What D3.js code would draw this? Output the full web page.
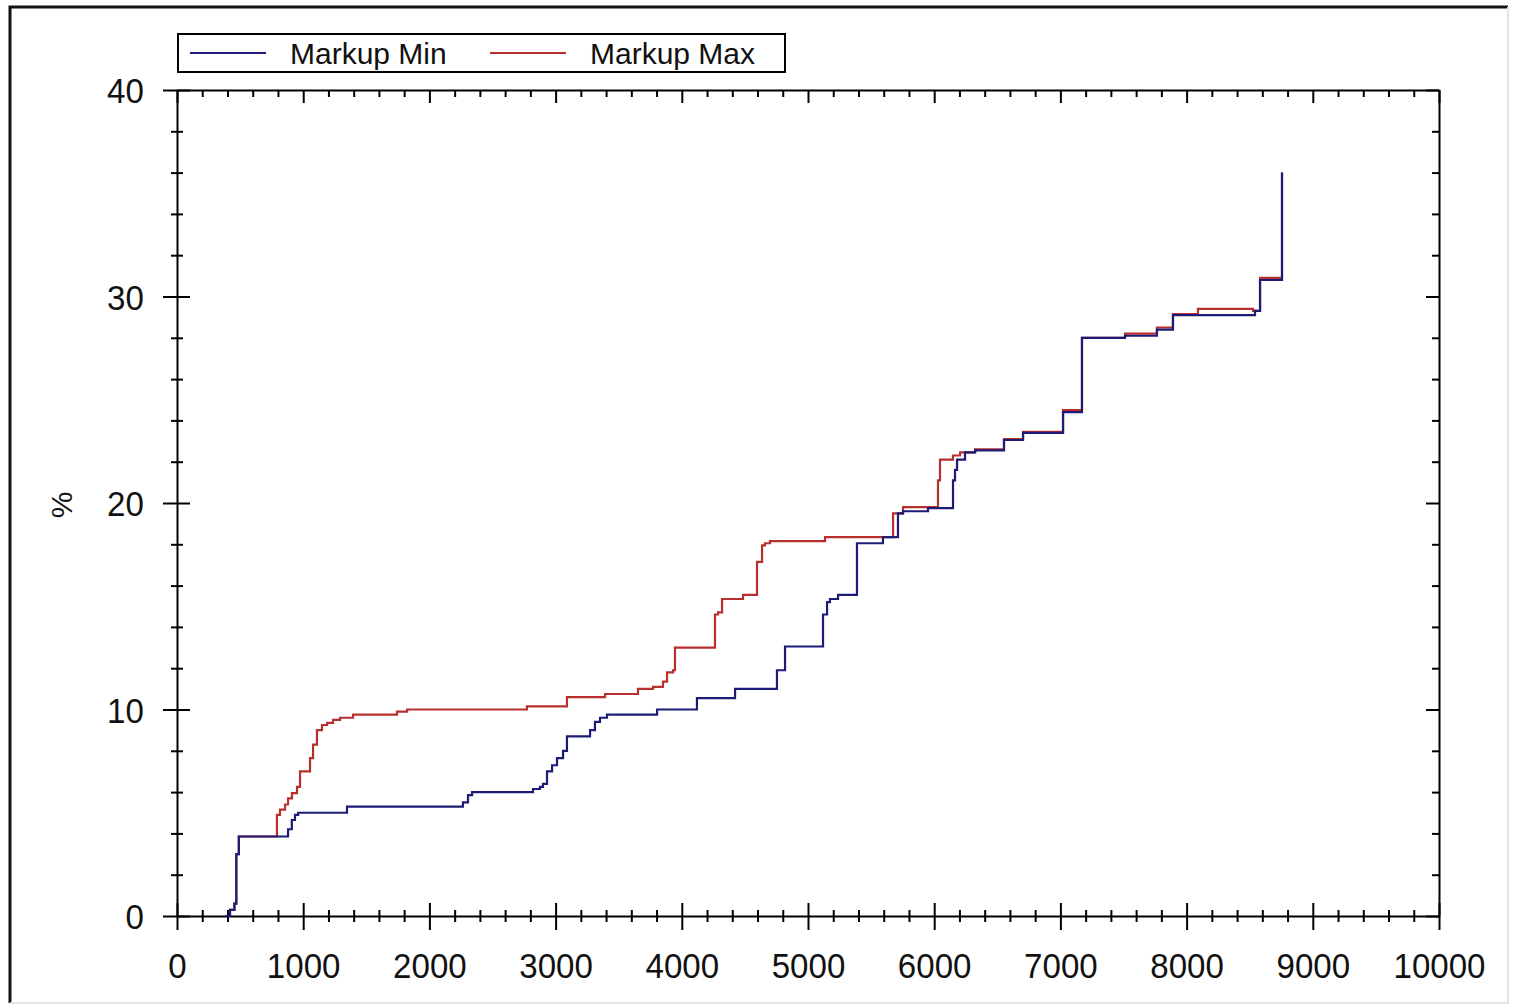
<!DOCTYPE html>
<html>
<head>
<meta charset="utf-8">
<script src="https://cdn.jsdelivr.net/npm/d3@7"></script>
<style>
  html, body { margin: 0; padding: 0; background: #fff; }
  svg { display: block; }
  text { font-family: "Liberation Sans", Arial, sans-serif; fill: #111; }
</style>
</head>
<body>
<div id="chart"></div>
<script>
// Step series: [x, %] means the value jumps to % at x
const markupMin = [
  [380, 0], [420, 0.3], [455, 0.6], [470, 3.0], [490, 3.85],
  [880, 4.2], [910, 4.65], [935, 4.9], [960, 5.0], [1347, 5.3],
  [2266, 5.5], [2306, 5.85], [2338, 6.0], [2821, 6.15], [2876, 6.25],
  [2900, 6.4], [2932, 7.0], [2972, 7.3], [3011, 7.65], [3059, 8.0],
  [3090, 8.7], [3273, 9.0], [3312, 9.4], [3352, 9.6], [3407, 9.75],
  [3804, 10.0], [4120, 10.55], [4422, 11.0], [4754, 11.9], [4818, 13.05],
  [5119, 14.6], [5151, 15.2], [5174, 15.35], [5238, 15.55], [5388, 18.05],
  [5594, 18.35], [5713, 19.5], [5753, 19.6], [5951, 19.75], [6149, 21.1],
  [6165, 21.6], [6181, 22.1], [6244, 22.45], [6324, 22.55], [6553, 23.05],
  [6704, 23.4], [7021, 24.4], [7171, 28.0], [7512, 28.1], [7765, 28.4],
  [7892, 29.1], [8542, 29.3], [8582, 30.8], [8756, 36.0]
];

const markupMax = [
  [380, 0], [420, 0.3], [455, 0.6], [470, 3.0], [490, 3.85],
  [792, 4.9], [816, 5.15], [856, 5.4], [880, 5.7], [911, 5.95],
  [951, 6.25], [975, 7.0], [1054, 7.65], [1078, 8.3], [1109, 9.0],
  [1149, 9.25], [1189, 9.35], [1236, 9.5], [1292, 9.6], [1395, 9.75],
  [1743, 9.9], [1823, 10.0], [2773, 10.15], [3090, 10.6], [3392, 10.75],
  [3653, 11.0], [3772, 11.1], [3851, 11.35], [3883, 11.8], [3931, 11.9],
  [3946, 13.0], [4263, 14.6], [4287, 14.7], [4319, 15.35], [4485, 15.55],
  [4596, 17.15], [4636, 17.95], [4659, 18.05], [4699, 18.15], [5135, 18.35],
  [5674, 19.5], [5753, 19.8], [6030, 21.1], [6046, 22.1], [6149, 22.3],
  [6205, 22.45], [6324, 22.6], [6553, 23.1], [6704, 23.45], [7021, 24.5],
  [7171, 28.0], [7512, 28.2], [7765, 28.5], [7892, 29.15], [8090, 29.4],
  [8526, 29.3], [8582, 30.9], [8756, 36.0]
];

const seriesNames = ["Markup Min", "Markup Max"];
const xTicks = [0, 1000, 2000, 3000, 4000, 5000, 6000, 7000, 8000, 9000, 10000];
const yTicks = [0, 10, 20, 30, 40];
const yLabel = "%";

const W = 1518, H = 1007;
const plot = { left: 177, right: 1439, top: 90, bottom: 916 };
const colors = { min: "#1c1c78", max: "#b8302e" };

const svg = d3.select("#chart").append("svg")
  .attr("width", W)
  .attr("height", H);

// outer frame, dark top/left edge and light bottom/right edge
svg.append("rect").attr("x", 0).attr("y", 0).attr("width", W).attr("height", H).attr("fill", "#fff");
svg.append("path")
  .attr("d", `M10,1003 L10,7 L1508,7`)
  .attr("fill", "none").attr("stroke", "#111").attr("stroke-width", 3);
svg.append("path")
  .attr("d", `M1508,7 L1508,1003 L10,1003`)
  .attr("fill", "none").attr("stroke", "#e4e4e4").attr("stroke-width", 2);

const x = d3.scaleLinear().domain([0, 10000]).range([plot.left, plot.right]);
const y = d3.scaleLinear().domain([0, 40]).range([plot.bottom, plot.top]);

const minorX = d3.range(0, 10001, 200).filter(v => v % 1000 !== 0);
const minorY = d3.range(0, 41, 2).filter(v => v % 10 !== 0);

function styleAxis(g) {
  g.attr("font-size", null).attr("font-family", null);
  g.selectAll("path.domain").attr("stroke", "#000").attr("stroke-width", 2);
  g.selectAll(".tick line").attr("stroke", "#000").attr("stroke-width", 2);
}

// bottom axis: ticks cross the axis line
const bottom = svg.append("g")
  .attr("transform", `translate(0,${plot.bottom})`)
  .call(d3.axisBottom(x).tickValues(xTicks).tickSizeOuter(0).tickFormat(d3.format("d")))
  .call(styleAxis);
bottom.selectAll(".tick line").attr("y1", -13).attr("y2", 14);
bottom.selectAll(".tick text")
  .attr("y", 62).attr("dy", 0)
  .attr("font-size", 36)
  .attr("transform", "scale(0.92,1)");
svg.append("g")
  .attr("transform", `translate(0,${plot.bottom})`)
  .call(d3.axisBottom(x).tickValues(minorX).tickSizeOuter(0).tickFormat(""))
  .call(styleAxis)
  .call(g => g.select("path.domain").remove())
  .selectAll(".tick line").attr("y1", -6).attr("y2", 6);

// left axis
const left = svg.append("g")
  .attr("transform", `translate(${plot.left},0)`)
  .call(d3.axisLeft(y).tickValues(yTicks).tickSizeOuter(0).tickFormat(d3.format("d")))
  .call(styleAxis);
left.selectAll(".tick line").attr("x1", 13).attr("x2", -14);
left.selectAll(".tick text")
  .attr("x", -36).attr("dy", "0.35em")
  .attr("font-size", 36)
  .attr("transform", "scale(0.92,1)");
svg.append("g")
  .attr("transform", `translate(${plot.left},0)`)
  .call(d3.axisLeft(y).tickValues(minorY).tickSizeOuter(0).tickFormat(""))
  .call(styleAxis)
  .call(g => g.select("path.domain").remove())
  .selectAll(".tick line").attr("x1", 6).attr("x2", -6);

// top axis: inward ticks only
svg.append("g")
  .attr("transform", `translate(0,${plot.top})`)
  .call(d3.axisTop(x).tickValues(xTicks).tickSizeOuter(0).tickSizeInner(-13).tickFormat(""))
  .call(styleAxis);
svg.append("g")
  .attr("transform", `translate(0,${plot.top})`)
  .call(d3.axisTop(x).tickValues(minorX).tickSizeOuter(0).tickSizeInner(-7).tickFormat(""))
  .call(styleAxis)
  .call(g => g.select("path.domain").remove());

// right axis: inward ticks only
svg.append("g")
  .attr("transform", `translate(${plot.right},0)`)
  .call(d3.axisRight(y).tickValues(yTicks).tickSizeOuter(0).tickSizeInner(-13).tickFormat(""))
  .call(styleAxis);
svg.append("g")
  .attr("transform", `translate(${plot.right},0)`)
  .call(d3.axisRight(y).tickValues(minorY).tickSizeOuter(0).tickSizeInner(-7).tickFormat(""))
  .call(styleAxis)
  .call(g => g.select("path.domain").remove());

// y axis title
svg.append("text")
  .attr("transform", "translate(72,505) rotate(-90)")
  .attr("text-anchor", "middle")
  .attr("font-size", 30)
  .text(yLabel);

// series lines, Markup Min drawn last so it sits on top
const line = d3.line()
  .x(d => x(d[0]))
  .y(d => y(d[1]))
  .curve(d3.curveStepAfter);

svg.append("path")
  .datum(markupMax)
  .attr("fill", "none")
  .attr("stroke", colors.max)
  .attr("stroke-width", 2.2)
  .attr("d", line);

svg.append("path")
  .datum(markupMin)
  .attr("fill", "none")
  .attr("stroke", colors.min)
  .attr("stroke-width", 2.2)
  .attr("d", line);

// legend
const legend = svg.append("g");
legend.append("rect")
  .attr("x", 178).attr("y", 34).attr("width", 607).attr("height", 38)
  .attr("fill", "#fff").attr("stroke", "#000").attr("stroke-width", 2);
const legendItems = [
  { name: seriesNames[0], color: colors.min, x0: 190 },
  { name: seriesNames[1], color: colors.max, x0: 490 }
];
legendItems.forEach(item => {
  legend.append("line")
    .attr("x1", item.x0).attr("x2", item.x0 + 76)
    .attr("y1", 53).attr("y2", 53)
    .attr("stroke", item.color).attr("stroke-width", 2);
  legend.append("text")
    .attr("x", item.x0 + 100).attr("y", 64)
    .attr("font-size", 30)
    .text(item.name);
});
</script>
</body>
</html>
